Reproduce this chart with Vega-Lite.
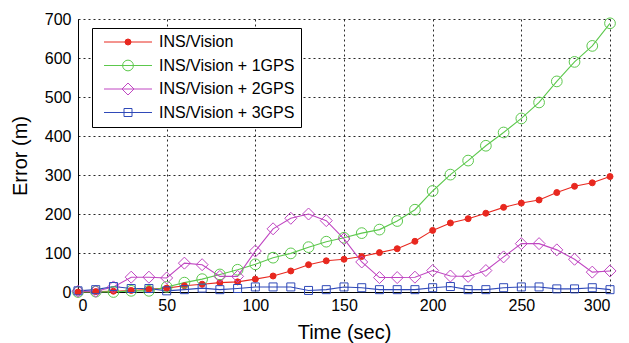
{
  "$schema": "https://vega.github.io/schema/vega-lite/v6.json",
  "width": 532,
  "height": 273,
  "autosize": {"type": "none"},
  "padding": {"left": 78, "top": 19, "right": 19, "bottom": 51},
  "config": {
    "view": {"stroke": null},
    "font": "Liberation Sans",
    "axis": {
      "domainColor": "black",
      "domainWidth": 1,
      "ticks": false,
      "tickSize": 0,
      "labelFont": "Liberation Sans",
      "labelFontSize": 16,
      "labelColor": "black",
      "titleFont": "Liberation Sans",
      "titleFontSize": 20,
      "titleFontWeight": "normal",
      "titleColor": "black",
      "gridColor": "#111111",
      "gridDash": [2, 3],
      "gridWidth": 1,
      "gridOpacity": 0.9
    }
  },
  "data": {
    "values": [
      {"t":0,"s":"INS/Vision","e":0},{"t":10,"s":"INS/Vision","e":1},{"t":20,"s":"INS/Vision","e":2},{"t":30,"s":"INS/Vision","e":4},{"t":40,"s":"INS/Vision","e":7},{"t":50,"s":"INS/Vision","e":10},{"t":60,"s":"INS/Vision","e":16},{"t":70,"s":"INS/Vision","e":20},{"t":80,"s":"INS/Vision","e":24},{"t":90,"s":"INS/Vision","e":26},{"t":100,"s":"INS/Vision","e":33},{"t":110,"s":"INS/Vision","e":41},{"t":120,"s":"INS/Vision","e":54},{"t":130,"s":"INS/Vision","e":70},{"t":140,"s":"INS/Vision","e":80},{"t":150,"s":"INS/Vision","e":84},{"t":160,"s":"INS/Vision","e":91},{"t":170,"s":"INS/Vision","e":101},{"t":180,"s":"INS/Vision","e":111},{"t":190,"s":"INS/Vision","e":130},{"t":200,"s":"INS/Vision","e":158},{"t":210,"s":"INS/Vision","e":177},{"t":220,"s":"INS/Vision","e":188},{"t":230,"s":"INS/Vision","e":202},{"t":240,"s":"INS/Vision","e":217},{"t":250,"s":"INS/Vision","e":228},{"t":260,"s":"INS/Vision","e":236},{"t":270,"s":"INS/Vision","e":255},{"t":280,"s":"INS/Vision","e":271},{"t":290,"s":"INS/Vision","e":280},{"t":300,"s":"INS/Vision","e":296},
      {"t":0,"s":"INS/Vision + 1GPS","e":0},{"t":10,"s":"INS/Vision + 1GPS","e":1},{"t":20,"s":"INS/Vision + 1GPS","e":0},{"t":30,"s":"INS/Vision + 1GPS","e":3},{"t":40,"s":"INS/Vision + 1GPS","e":3},{"t":50,"s":"INS/Vision + 1GPS","e":13},{"t":60,"s":"INS/Vision + 1GPS","e":24},{"t":70,"s":"INS/Vision + 1GPS","e":33},{"t":80,"s":"INS/Vision + 1GPS","e":45},{"t":90,"s":"INS/Vision + 1GPS","e":57},{"t":100,"s":"INS/Vision + 1GPS","e":71},{"t":110,"s":"INS/Vision + 1GPS","e":88},{"t":120,"s":"INS/Vision + 1GPS","e":99},{"t":130,"s":"INS/Vision + 1GPS","e":115},{"t":140,"s":"INS/Vision + 1GPS","e":129},{"t":150,"s":"INS/Vision + 1GPS","e":139},{"t":160,"s":"INS/Vision + 1GPS","e":151},{"t":170,"s":"INS/Vision + 1GPS","e":160},{"t":180,"s":"INS/Vision + 1GPS","e":182},{"t":190,"s":"INS/Vision + 1GPS","e":211},{"t":200,"s":"INS/Vision + 1GPS","e":259},{"t":210,"s":"INS/Vision + 1GPS","e":301},{"t":220,"s":"INS/Vision + 1GPS","e":337},{"t":230,"s":"INS/Vision + 1GPS","e":375},{"t":240,"s":"INS/Vision + 1GPS","e":409},{"t":250,"s":"INS/Vision + 1GPS","e":445},{"t":260,"s":"INS/Vision + 1GPS","e":486},{"t":270,"s":"INS/Vision + 1GPS","e":540},{"t":280,"s":"INS/Vision + 1GPS","e":590},{"t":290,"s":"INS/Vision + 1GPS","e":631},{"t":300,"s":"INS/Vision + 1GPS","e":689},
      {"t":0,"s":"INS/Vision + 2GPS","e":2},{"t":10,"s":"INS/Vision + 2GPS","e":2},{"t":20,"s":"INS/Vision + 2GPS","e":13},{"t":30,"s":"INS/Vision + 2GPS","e":38},{"t":40,"s":"INS/Vision + 2GPS","e":38},{"t":50,"s":"INS/Vision + 2GPS","e":36},{"t":60,"s":"INS/Vision + 2GPS","e":74},{"t":70,"s":"INS/Vision + 2GPS","e":70},{"t":80,"s":"INS/Vision + 2GPS","e":40},{"t":90,"s":"INS/Vision + 2GPS","e":40},{"t":100,"s":"INS/Vision + 2GPS","e":105},{"t":110,"s":"INS/Vision + 2GPS","e":162},{"t":120,"s":"INS/Vision + 2GPS","e":189},{"t":130,"s":"INS/Vision + 2GPS","e":200},{"t":140,"s":"INS/Vision + 2GPS","e":183},{"t":150,"s":"INS/Vision + 2GPS","e":136},{"t":160,"s":"INS/Vision + 2GPS","e":77},{"t":170,"s":"INS/Vision + 2GPS","e":37},{"t":180,"s":"INS/Vision + 2GPS","e":37},{"t":190,"s":"INS/Vision + 2GPS","e":38},{"t":200,"s":"INS/Vision + 2GPS","e":55},{"t":210,"s":"INS/Vision + 2GPS","e":41},{"t":220,"s":"INS/Vision + 2GPS","e":40},{"t":230,"s":"INS/Vision + 2GPS","e":55},{"t":240,"s":"INS/Vision + 2GPS","e":90},{"t":250,"s":"INS/Vision + 2GPS","e":124},{"t":260,"s":"INS/Vision + 2GPS","e":124},{"t":270,"s":"INS/Vision + 2GPS","e":108},{"t":280,"s":"INS/Vision + 2GPS","e":84},{"t":290,"s":"INS/Vision + 2GPS","e":51},{"t":300,"s":"INS/Vision + 2GPS","e":54},
      {"t":0,"s":"INS/Vision + 3GPS","e":3},{"t":10,"s":"INS/Vision + 3GPS","e":6},{"t":20,"s":"INS/Vision + 3GPS","e":14},{"t":30,"s":"INS/Vision + 3GPS","e":9},{"t":40,"s":"INS/Vision + 3GPS","e":9},{"t":50,"s":"INS/Vision + 3GPS","e":3},{"t":60,"s":"INS/Vision + 3GPS","e":6},{"t":70,"s":"INS/Vision + 3GPS","e":10},{"t":80,"s":"INS/Vision + 3GPS","e":6},{"t":90,"s":"INS/Vision + 3GPS","e":9},{"t":100,"s":"INS/Vision + 3GPS","e":13},{"t":110,"s":"INS/Vision + 3GPS","e":13},{"t":120,"s":"INS/Vision + 3GPS","e":13},{"t":130,"s":"INS/Vision + 3GPS","e":4},{"t":140,"s":"INS/Vision + 3GPS","e":6},{"t":150,"s":"INS/Vision + 3GPS","e":13},{"t":160,"s":"INS/Vision + 3GPS","e":11},{"t":170,"s":"INS/Vision + 3GPS","e":6},{"t":180,"s":"INS/Vision + 3GPS","e":6},{"t":190,"s":"INS/Vision + 3GPS","e":6},{"t":200,"s":"INS/Vision + 3GPS","e":11},{"t":210,"s":"INS/Vision + 3GPS","e":14},{"t":220,"s":"INS/Vision + 3GPS","e":6},{"t":230,"s":"INS/Vision + 3GPS","e":6},{"t":240,"s":"INS/Vision + 3GPS","e":11},{"t":250,"s":"INS/Vision + 3GPS","e":13},{"t":260,"s":"INS/Vision + 3GPS","e":13},{"t":270,"s":"INS/Vision + 3GPS","e":8},{"t":280,"s":"INS/Vision + 3GPS","e":8},{"t":290,"s":"INS/Vision + 3GPS","e":11},{"t":300,"s":"INS/Vision + 3GPS","e":6}
    ]
  },
  "encoding": {
    "x": {
      "field": "t", "type": "quantitative",
      "scale": {"domain": [0, 300], "nice": false},
      "axis": {"values": [0, 50, 100, 150, 200, 250, 300], "title": "Time (sec)", "labelPadding": 5, "titlePadding": 9, "titleFontWeight": "normal"}
    },
    "y": {
      "field": "e", "type": "quantitative",
      "scale": {"domain": [0, 700], "nice": false},
      "axis": {"values": [0, 100, 200, 300, 400, 500, 600, 700], "title": "Error (m)", "labelPadding": 7, "titlePadding": 14, "titleFontWeight": "normal"}
    }
  },
  "layer": [
    {
      "mark": {"type": "line", "strokeWidth": 1.1},
      "encoding": {
        "color": {
          "field": "s", "type": "nominal",
          "scale": {
            "domain": ["INS/Vision", "INS/Vision + 1GPS", "INS/Vision + 2GPS", "INS/Vision + 3GPS"],
            "range": ["#e8281f", "#5cc84c", "#c046c2", "#2f49b8"]
          },
          "legend": {
            "title": null,
            "orient": "none",
            "legendX": 14,
            "legendY": 9,
            "padding": 6,
            "strokeColor": "black",
            "fillColor": "white",
            "cornerRadius": 0,
            "symbolType": "M-4,0H4",
            "symbolSize": 144,
            "symbolStrokeWidth": 1,
            "symbolOffset": 22,
            "labelOffset": 23,
            "labelFont": "Liberation Sans",
            "labelFontSize": 16,
            "labelColor": "black",
            "rowPadding": 7.5,
            "labelLimit": 300
          }
        }
      }
    },
    {
      "mark": {"type": "point", "filled": false, "strokeWidth": 1, "opacity": 1},
      "encoding": {
        "color": {
          "field": "s", "type": "nominal",
          "legend": {
            "title": null,
            "orient": "none",
            "legendX": 14,
            "legendY": 9,
            "padding": 6,
            "symbolOffset": 22,
            "labelOffset": 23,
            "labelFont": "Liberation Sans",
            "labelFontSize": 16,
            "labelColor": "transparent",
            "rowPadding": 7.5,
            "labelLimit": 300,
            "symbolStrokeWidth": 1
          }
        },
        "fill": {
          "field": "s", "type": "nominal",
          "scale": {
            "domain": ["INS/Vision", "INS/Vision + 1GPS", "INS/Vision + 2GPS", "INS/Vision + 3GPS"],
            "range": ["#e8281f", "transparent", "transparent", "transparent"]
          }
        },
        "shape": {
          "field": "s", "type": "nominal",
          "scale": {
            "domain": ["INS/Vision", "INS/Vision + 1GPS", "INS/Vision + 2GPS", "INS/Vision + 3GPS"],
            "range": ["circle", "circle", "diamond", "square"]
          }
        },
        "size": {
          "field": "s", "type": "nominal",
          "scale": {
            "type": "ordinal",
            "domain": ["INS/Vision", "INS/Vision + 1GPS", "INS/Vision + 2GPS", "INS/Vision + 3GPS"],
            "range": [36, 115, 144, 64]
          }
        }
      }
    }
  ],
  "resolve": {"legend": {"color": "independent", "fill": "independent", "shape": "independent", "size": "independent"}}
}
